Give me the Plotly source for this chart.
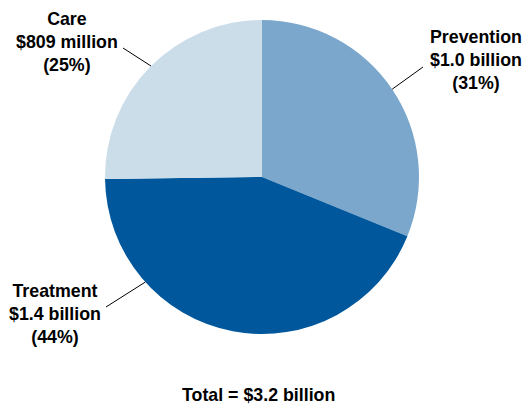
import math
import plotly.graph_objects as go

W, H = 527, 404

categories = ["Prevention", "Treatment", "Care"]
values_millions = [1000, 1400, 809]
amount_labels = ["$1.0 billion", "$1.4 billion", "$809 million"]
pct_labels = ["(31%)", "(44%)", "(25%)"]
colors = ["#7BA7CC", "#00579B", "#CCDDEA"]
total_label = "Total = $3.2 billion"

# pie geometry (pixels)
cx, cy, r = 262, 177, 157


def px(x):
    return x / W


def py(y):
    return 1 - y / H


fig = go.Figure(
    go.Pie(
        labels=categories,
        values=values_millions,
        sort=False,
        direction="clockwise",
        rotation=0,
        marker=dict(colors=colors, line=dict(width=0)),
        textinfo="none",
        hoverinfo="label+value+percent",
        showlegend=False,
        domain=dict(x=[px(cx - r), px(cx + r)], y=[py(cy + r), py(cy - r)]),
    )
)

# label positions (text centre, pixels) and leader-line angles (deg from 12 o'clock, clockwise)
label_pos = [(476, 60), (55, 314), (67, 42)]
leader_angle = [56, 228, 315]
leader_end = [(423, 67), (106, 307), (123, 48)]

font = dict(family="Arial, Liberation Sans, sans-serif", size=17.8, color="#000000")

for cat, amt, pct, (lx, ly), ang, (ex, ey) in zip(
    categories, amount_labels, pct_labels, label_pos, leader_angle, leader_end
):
    fig.add_annotation(
        x=px(lx), y=py(ly), xref="paper", yref="paper",
        text=f"<b>{cat}<br>{amt}<br>{pct}</b>",
        showarrow=False, align="center", font=font,
        xanchor="center", yanchor="middle",
    )
    a = math.radians(ang)
    sx = cx + r * math.sin(a)
    sy = cy - r * math.cos(a)
    fig.add_shape(
        type="line", xref="paper", yref="paper",
        x0=px(sx), y0=py(sy), x1=px(ex), y1=py(ey),
        line=dict(color="#000000", width=1),
    )

fig.add_annotation(
    x=px(258), y=py(395), xref="paper", yref="paper",
    text=f"<b>{total_label}</b>", showarrow=False, font=font,
    xanchor="center", yanchor="middle",
)

fig.update_layout(
    width=W, height=H,
    margin=dict(l=0, r=0, t=0, b=0),
    paper_bgcolor="#FFFFFF",
    plot_bgcolor="#FFFFFF",
)

fig.write_html("out.html")
